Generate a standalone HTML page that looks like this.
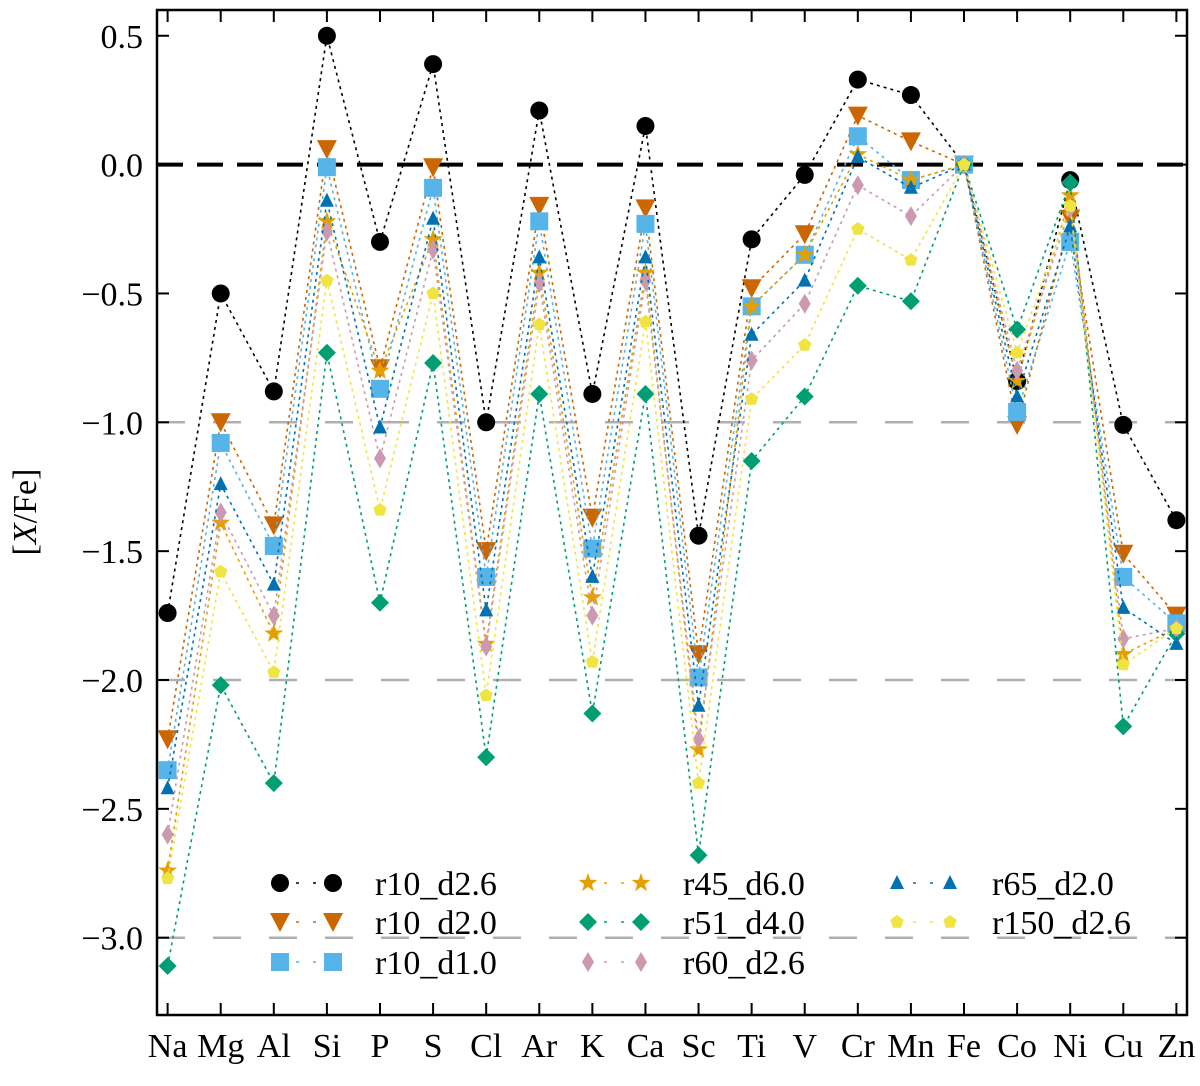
<!DOCTYPE html>
<html><head><meta charset="utf-8"><style>
body{margin:0;background:#fff}
svg text{font-family:"Liberation Serif",serif;}
</style></head><body>
<svg id="chart" width="1200" height="1081" xmlns="http://www.w3.org/2000/svg"></svg>
<script>
const elements=["Na","Mg","Al","Si","P","S","Cl","Ar","K","Ca","Sc","Ti","V","Cr","Mn","Fe","Co","Ni","Cu","Zn"];
const yTicks=[0.5,0.0,-0.5,-1.0,-1.5,-2.0,-2.5,-3.0];
const yTickLabels=["0.5","0.0","-0.5","-1.0","-1.5","-2.0","-2.5","-3.0"];
const seriesNames=["r10_d2.6","r10_d2.0","r10_d1.0","r45_d6.0","r51_d4.0","r60_d2.6","r65_d2.0","r150_d2.6"];
const r10_d26=[-1.74,-0.50,-0.88,0.50,-0.30,0.39,-1.00,0.21,-0.89,0.15,-1.44,-0.29,-0.04,0.33,0.27,0,-0.84,-0.06,-1.01,-1.38];
const r10_d20=[-2.23,-1.00,-1.40,0.06,-0.79,-0.01,-1.50,-0.16,-1.37,-0.17,-1.90,-0.48,-0.27,0.19,0.09,0,-1.01,-0.21,-1.51,-1.75];
const r10_d10=[-2.35,-1.08,-1.48,-0.01,-0.87,-0.09,-1.60,-0.22,-1.49,-0.23,-1.99,-0.55,-0.35,0.11,-0.06,0,-0.96,-0.30,-1.60,-1.78];
const r45_d60=[-2.74,-1.39,-1.82,-0.22,-0.80,-0.29,-1.86,-0.42,-1.68,-0.42,-2.27,-0.55,-0.35,0.04,-0.06,0,-0.84,-0.12,-1.90,-1.80];
const r51_d40=[-3.11,-2.02,-2.40,-0.73,-1.70,-0.77,-2.30,-0.89,-2.13,-0.89,-2.68,-1.15,-0.90,-0.47,-0.53,0,-0.64,-0.07,-2.18,-1.82];
const r60_d26=[-2.60,-1.35,-1.75,-0.26,-1.14,-0.33,-1.87,-0.46,-1.75,-0.45,-2.23,-0.76,-0.54,-0.08,-0.20,0,-0.80,-0.17,-1.84,-1.80];
const r65_d20=[-2.42,-1.24,-1.63,-0.14,-1.02,-0.21,-1.73,-0.36,-1.60,-0.36,-2.10,-0.66,-0.45,0.03,-0.09,0,-0.90,-0.24,-1.72,-1.86];
const r150_d26=[-2.77,-1.58,-1.97,-0.45,-1.34,-0.50,-2.06,-0.62,-1.93,-0.61,-2.40,-0.91,-0.70,-0.25,-0.37,0,-0.73,-0.16,-1.94,-1.80];

const NS="http://www.w3.org/2000/svg";
const svg=document.getElementById("chart");
const L=157,R=1187,T=10,B=1015;
const xMin=-0.2,xMax=19.2,yMin=-3.3,yMax=0.6;
const xs=i=>L+(i-xMin)/(xMax-xMin)*(R-L);
const ys=v=>T+(yMax-v)/(yMax-yMin)*(B-T);
function mk(tag,attrs,parent){const e=document.createElementNS(NS,tag);for(const k in attrs)e.setAttribute(k,attrs[k]);(parent||svg).appendChild(e);return e;}

[-1,-2,-3].forEach(v=>{
  const g=mk("line",{x1:L,x2:R,y1:ys(v),y2:ys(v),stroke:"#b0b0b0","stroke-width":2.5,"stroke-dasharray":"28,28"});
  
  
});
const zl=mk("line",{x1:L,x2:R,y1:ys(0),y2:ys(0),stroke:"#000","stroke-width":4,"stroke-dasharray":"26,14"});



function marker(type,x,y,color,s){
  let e;
  if(type==="circle")e=mk("circle",{cx:x,cy:y,r:9*s,fill:color});
  else if(type==="down")e=mk("polygon",{points:`${x-10*s},${y-9*s} ${x+10*s},${y-9*s} ${x},${y+10*s}`,fill:color});
  else if(type==="up")e=mk("polygon",{points:`${x-7*s},${y+6*s} ${x+7*s},${y+6*s} ${x},${y-8*s}`,fill:color});
  else if(type==="square")e=mk("rect",{x:x-9*s,y:y-9*s,width:18*s,height:18*s,fill:color});
  else if(type==="diamond")e=mk("polygon",{points:`${x},${y-9*s} ${x+9*s},${y} ${x},${y+9*s} ${x-9*s},${y}`,fill:color});
  else if(type==="thin")e=mk("polygon",{points:`${x},${y-10*s} ${x+6*s},${y} ${x},${y+10*s} ${x-6*s},${y}`,fill:color});
  else if(type==="star"){let p=[];for(let k=0;k<10;k++){const a=-Math.PI/2+k*Math.PI/5,r=(k%2?4:10)*s;p.push((x+r*Math.cos(a)).toFixed(1)+","+(y+r*Math.sin(a)).toFixed(1));}e=mk("polygon",{points:p.join(" "),fill:color});}
  else if(type==="pent"){let p=[];for(let k=0;k<5;k++){const a=-Math.PI/2+k*2*Math.PI/5;p.push((x+7*s*Math.cos(a)).toFixed(1)+","+(y+7*s*Math.sin(a)).toFixed(1));}e=mk("polygon",{points:p.join(" "),fill:color});}
  return e;
}
const series=[
 [r10_d26,"circle","#000000",1],
 [r10_d20,"down","#cc6600",1],
 [r10_d10,"square","#56b4e9",1],
 [r45_d60,"star","#e69f00",1],
 [r51_d40,"diamond","#009e73",1],
 [r60_d26,"thin","#cc99b0",1],
 [r65_d20,"up","#0072b2",1],
 [r150_d26,"pent","#f0e442",1]
];
series.forEach((s,si)=>{
  const [vals,type,color,sz]=s;
  const pts=vals.map((v,i)=>xs(i)+","+ys(v)).join(" ");
  const pl=mk("polyline",{points:pts,fill:"none",stroke:color,"stroke-width":1.6,"stroke-dasharray":"3,4"});
  
  
  vals.forEach((v,i)=>{
    const m=marker(type,xs(i),ys(v),color,sz);
    
    
  });
});

const legPos=[[280,883],[280,922],[280,962],[588,883],[588,922],[588,962],[897,883],[897,922]];
series.forEach((s,si)=>{
  const [vals,type,color,sz]=s;
  const [x,y]=legPos[si];
  const g=mk("g",{});
  
  
  mk("line",{x1:x,x2:x+53,y1:y,y2:y,stroke:color,"stroke-width":1.6,"stroke-dasharray":"3,14","stroke-dashoffset":"-16"},g);
  g.appendChild(marker(type,x,y,color,sz));
  g.appendChild(marker(type,x+53,y,color,sz));
  const t=mk("text",{x:x+95,y:y+12,"font-size":34,fill:"#000"},g);
  t.textContent=seriesNames[si];
});

const fr=mk("rect",{x:L,y:T,width:R-L,height:B-T,fill:"none",stroke:"#000","stroke-width":2.5});


yTicks.forEach((v,i)=>{
  const y=ys(v);
  mk("line",{x1:L,x2:L+12,y1:y,y2:y,stroke:"#000","stroke-width":2});
  mk("line",{x1:R,x2:R-12,y1:y,y2:y,stroke:"#000","stroke-width":2});
  const t=mk("text",{x:L-14,y:y+12,"font-size":34,"text-anchor":"end"});
  
  
  t.textContent=yTickLabels[i].replace("-","\u2212");
});
elements.forEach((el,i)=>{
  const x=xs(i);
  mk("line",{x1:x,x2:x,y1:B,y2:B-12,stroke:"#000","stroke-width":2});
  mk("line",{x1:x,x2:x,y1:T,y2:T+12,stroke:"#000","stroke-width":2});
  const t=mk("text",{x:x,y:B+42,"font-size":34,"text-anchor":"middle"});
  
  
  t.textContent=el;
});
const yt=mk("text",{x:0,y:0,"font-size":34,"text-anchor":"middle",transform:"translate(36,512) rotate(-90)"});


yt.innerHTML='[<tspan font-style="italic">X</tspan>/Fe]';
</script>
</body></html>
